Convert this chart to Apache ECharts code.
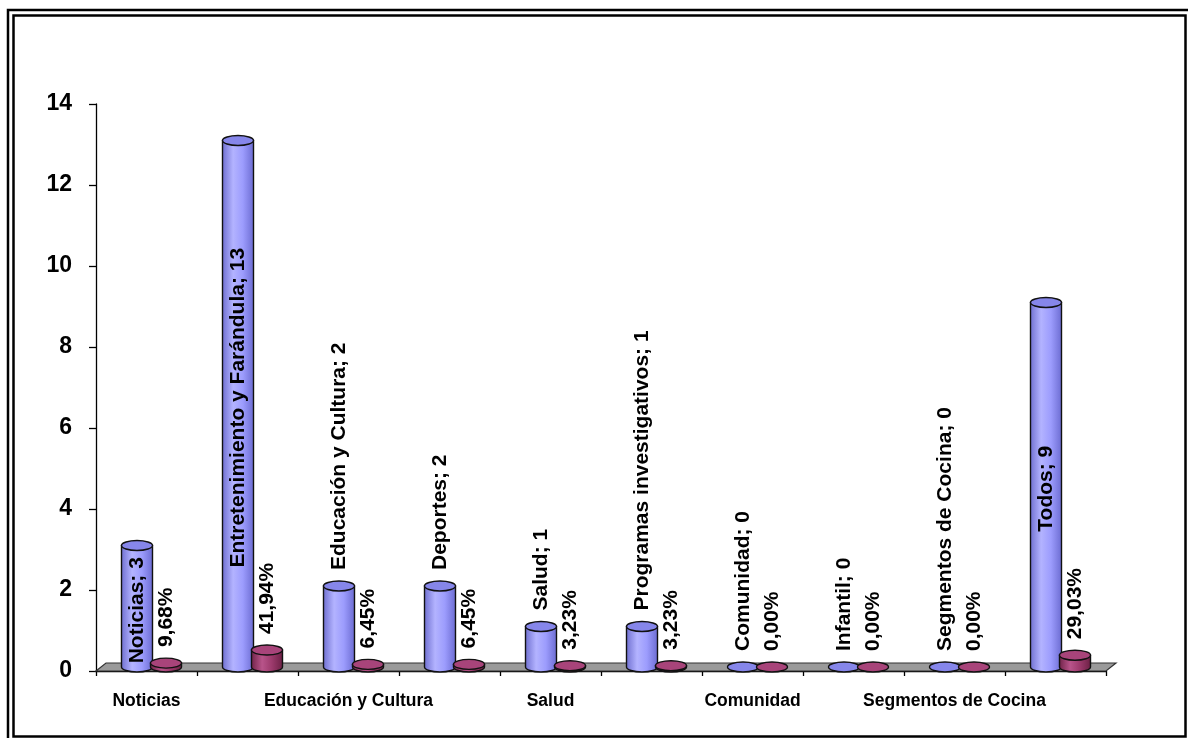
<!DOCTYPE html>
<html>
<head>
<meta charset="utf-8">
<script src="https://cdn.jsdelivr.net/npm/echarts@6/dist/echarts.min.js"></script>
<style>
  html, body { margin: 0; padding: 0; background: #fff; }
  #chart { width: 1188px; height: 738px; }
</style>
</head>
<body>
<div id="chart"></div>
<script>
// Programación preferida: número de respuestas y porcentaje por tipo de programa
const categories = ['Noticias', 'Entretenimiento y Farándula', 'Educación y Cultura', 'Deportes', 'Salud',
  'Programas investigativos', 'Comunidad', 'Infantil', 'Segmentos de Cocina', 'Todos'];
const counts = [3, 13, 2, 2, 1, 1, 0, 0, 0, 9];
const percents = [9.68, 41.94, 6.45, 6.45, 3.23, 3.23, 0, 0, 0, 29.03];
const yTicks = [0, 2, 4, 6, 8, 10, 12, 14];

const FONT = "Arial, 'Liberation Sans', sans-serif";
const LABEL_SIZE = 21;
const DEPTH_X = 10, DEPTH_Y = 8;   // oblique depth of the floor
const BAR_W = 31, RY = 5;          // cylinder width and ellipse half-height

const measureCtx = document.createElement('canvas').getContext('2d');
function textWidth(t) {
  measureCtx.font = 'bold ' + LABEL_SIZE + 'px ' + FONT;
  return measureCtx.measureText(t).width;
}

function fmtPct(v) { return v.toFixed(2).replace('.', ',') + '%'; }

// Cylinder column series drawn through the cartesian coordinate system
function cylinderSeries(name, values, dx, look, labelText, z) {
  return {
    type: 'custom',
    name: name,
    z: z,
    data: values.map((v, i) => [i, v]),
    renderItem: function (params, api) {
      const i = api.value(0), v = api.value(1);
      const base = api.coord([i, 0]);
      const top = api.coord([i, v]);
      const cx = base[0] + dx;
      const by = base[1] - DEPTH_Y / 2;
      const ty = top[1] - DEPTH_Y / 2;
      const l = cx - BAR_W / 2, r = cx + BAR_W / 2, rx = BAR_W / 2;
      const children = [];
      if (by - ty > 0.5) {
        children.push({
          type: 'path',
          shape: {
            pathData: 'M' + l + ' ' + ty + ' L' + l + ' ' + by +
              ' A' + rx + ' ' + RY + ' 0 0 0 ' + r + ' ' + by +
              ' L' + r + ' ' + ty + ' Z'
          },
          style: {
            fill: new echarts.graphic.LinearGradient(0, 0, 1, 0, look.body),
            stroke: '#111', lineWidth: 1.4
          }
        });
      }
      children.push({
        type: 'path',
        shape: {
          pathData: 'M' + l + ' ' + ty + ' A' + rx + ' ' + RY + ' 0 1 0 ' + r + ' ' + ty +
            ' A' + rx + ' ' + RY + ' 0 1 0 ' + l + ' ' + ty + ' Z'
        },
        style: { fill: look.top, stroke: '#111', lineWidth: 1.4 }
      });
      const txt = labelText(i, v);
      const w = textWidth(txt);
      const inside = w + 10 < (by - ty);
      children.push({
        type: 'text',
        x: cx,
        y: inside ? (by + ty) / 2 + 4 : ty - 16,
        rotation: Math.PI / 2,
        style: {
          text: txt,
          fill: '#000',
          fontFamily: FONT,
          fontWeight: 'bold',
          fontSize: LABEL_SIZE,
          align: inside ? 'center' : 'left',
          verticalAlign: 'middle'
        },
        z2: 10
      });
      return { type: 'group', children: children };
    }
  };
}

const blueLook = {
  body: [
    { offset: 0, color: '#6d6dcf' },
    { offset: 0.35, color: '#b3b3ff' },
    { offset: 0.65, color: '#9c9cfd' },
    { offset: 1, color: '#6a6ad0' }
  ],
  top: '#8686ea'
};
const maroonLook = {
  body: [
    { offset: 0, color: '#6e2146' },
    { offset: 0.35, color: '#b8548a' },
    { offset: 0.65, color: '#9c3a6c' },
    { offset: 1, color: '#6a1f43' }
  ],
  top: '#a8447a'
};

const chart = echarts.init(document.getElementById('chart'), null, { renderer: 'canvas' });

chart.setOption({
  animation: false,
  backgroundColor: '#fff',
  grid: { left: 96, right: 82, top: 104, bottom: 67, containLabel: false },
  xAxis: {
    type: 'category',
    data: categories,
    boundaryGap: true,
    axisLine: { show: true, lineStyle: { color: '#000', width: 1.3 } },
    axisTick: { show: true, interval: 0, length: 5, lineStyle: { color: '#000', width: 1.3 } },
    axisLabel: {
      interval: 1,
      margin: 21,
      color: '#000',
      fontFamily: FONT,
      fontWeight: 'bold',
      fontSize: 17.5
    },
    splitLine: { show: false }
  },
  yAxis: {
    type: 'value',
    min: yTicks[0],
    max: yTicks[yTicks.length - 1],
    interval: yTicks[1] - yTicks[0],
    axisLine: { show: true, lineStyle: { color: '#000', width: 1.3 } },
    axisTick: { show: true, length: 7, lineStyle: { color: '#000', width: 1.3 } },
    axisLabel: {
      margin: 24,
      color: '#000',
      fontFamily: FONT,
      fontWeight: 'bold',
      fontSize: 23,
      padding: [4, 0, 0, 0]
    },
    splitLine: { show: false }
  },
  graphic: [
    {
      type: 'rect', silent: true,
      shape: { x: 8, y: 10, width: 1200, height: 1200 },
      style: { fill: null, stroke: '#000', lineWidth: 2.5 }
    },
    {
      type: 'rect', silent: true,
      shape: { x: 13.5, y: 15.5, width: 1172, height: 721 },
      style: { fill: null, stroke: '#000', lineWidth: 2.5 }
    }
  ],
  series: [
    {
      // gray floor under the columns
      type: 'custom',
      name: 'piso',
      z: 1,
      data: [[0, 0]],
      renderItem: function (params, api) {
        const cs = params.coordSys;
        const y0 = cs.y + cs.height;
        return {
          type: 'polygon',
          shape: {
            points: [
              [cs.x, y0], [cs.x + cs.width, y0],
              [cs.x + cs.width + DEPTH_X, y0 - DEPTH_Y], [cs.x + DEPTH_X, y0 - DEPTH_Y]
            ]
          },
          style: { fill: '#9a9a9a', stroke: '#333', lineWidth: 1.2 }
        };
      }
    },
    cylinderSeries('Respuestas', counts, -9.5, blueLook,
      (i, v) => categories[i] + '; ' + v, 3),
    cylinderSeries('Porcentaje', percents.map(p => p / 100), 19.5, maroonLook,
      (i) => fmtPct(percents[i]), 4)
  ]
});
</script>
</body>
</html>
